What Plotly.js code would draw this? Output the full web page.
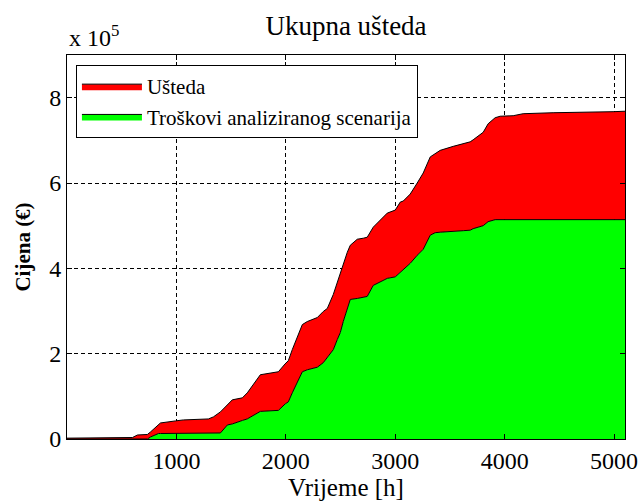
<!DOCTYPE html>
<html>
<head>
<meta charset="utf-8">
<script src="https://cdn.plot.ly/plotly-3.0.1.min.js"></script>
<style>html,body{margin:0;padding:0;background:#fff;}#chart{width:641px;height:503px;}</style>
</head>
<body>
<div id="chart"></div>
<script>
// Time [h]
const hours = [0, 598, 644, 735, 763, 836, 854, 991, 1064, 1292, 1338, 1402, 1466, 1511, 1603, 1648, 1767, 1858, 1932, 1995, 2023, 2059, 2105, 2151, 2196, 2288, 2342, 2379, 2434, 2470, 2498, 2525, 2562, 2589, 2653, 2708, 2744, 2799, 2927, 3000, 3046, 3073, 3137, 3201, 3256, 3320, 3365, 3411, 3530, 3621, 3685, 3712, 3804, 3849, 3913, 3959, 4078, 4169, 4443, 4991, 5100];
// Troškovi analiziranog scenarija (cumulative cost, €)
const troskovi = [0, 0, 0, 0, 4700, 12900, 12900, 12900, 12900, 12900, 12900, 14100, 32900, 35300, 43500, 47100, 64700, 65900, 67100, 82400, 87100, 108200, 134100, 157600, 162300, 168200, 178800, 190600, 209400, 232900, 249400, 275300, 308200, 327100, 329400, 331800, 334100, 360000, 376500, 380000, 390600, 397700, 411800, 430600, 444700, 477700, 483500, 484700, 485900, 488200, 489400, 492900, 500000, 509400, 514100, 514100, 514100, 514100, 514100, 514100, 514100];
// Ušteda (cumulative savings, €)
const usteda = [2000, 3500, 9400, 10600, 11800, 20100, 24700, 29500, 31800, 34100, 38900, 49400, 47100, 56500, 53000, 61100, 85900, 89400, 90500, 94100, 96400, 101200, 103500, 110600, 113000, 116500, 120000, 115300, 129400, 134200, 134100, 129400, 129500, 127000, 138800, 138800, 138800, 136500, 152900, 156500, 164700, 160000, 162300, 169400, 178800, 183500, 184800, 191800, 200000, 203600, 207100, 208300, 218800, 229400, 238900, 242400, 243600, 248300, 250600, 253000, 254100];

const xTickVals = [1000, 2000, 3000, 4000, 5000];
const yTickVals = [0, 200000, 400000, 600000, 800000];
const yTickText = ["0", "2", "4", "6", "8"];

const serif = "Liberation Serif";

const traces = [
  {
    x: hours, y: troskovi, name: "Troškovi analiziranog scenarija",
    type: "scatter", mode: "lines", stackgroup: "one",
    fillcolor: "#00ff00", line: {color: "#000000", width: 1},
    legendrank: 2
  },
  {
    x: hours, y: usteda, name: "Ušteda",
    type: "scatter", mode: "lines", stackgroup: "one",
    fillcolor: "#ff0000", line: {color: "#000000", width: 1},
    legendrank: 1
  }
];

const axisCommon = {
  showline: true, linecolor: "#000000", linewidth: 1, mirror: "ticks",
  ticks: "inside", ticklen: 5, tickcolor: "#000000",
  showgrid: true, gridcolor: "#000000", gridwidth: 1, griddash: "4px,3px",
  zeroline: false,
  tickfont: {family: serif, size: 24, color: "#000000"}
};

const layout = {
  width: 641, height: 503,
  margin: {l: 67, r: 16, t: 55, b: 64, pad: 0},
  paper_bgcolor: "#ffffff", plot_bgcolor: "#ffffff",
  font: {family: serif, color: "#000000"},
  title: {text: "Ukupna ušteda", font: {family: serif, size: 27, color: "#000000"},
          x: 0.5, xref: "paper", xanchor: "center", y: 0.95, yref: "container", yanchor: "middle"},
  xaxis: Object.assign({}, axisCommon, {
    range: [0, 5100], tickvals: xTickVals,
    title: {text: "Vrijeme [h]", font: {family: serif, size: 25, color: "#000000"}, standoff: 4}
  }),
  yaxis: Object.assign({}, axisCommon, {
    range: [0, 900000], tickvals: yTickVals, ticktext: yTickText,
    title: {text: "Cijena (€)", font: {family: serif, size: 21, color: "#000000", weight: "bold"}, standoff: 12}
  }),
  showlegend: true,
  legend: {
    x: 0.016, y: 0.974, xanchor: "left", yanchor: "top",
    bgcolor: "#ffffff", bordercolor: "#000000", borderwidth: 1,
    font: {family: serif, size: 21, color: "#000000"},
    traceorder: "normal", itemwidth: 60
  },
  annotations: [{
    xref: "paper", yref: "paper", x: 0, y: 1, xanchor: "left", yanchor: "bottom", yshift: 2,
    text: "x 10<sup>5</sup>", showarrow: false,
    font: {family: serif, size: 24, color: "#000000"}
  }]
};

Plotly.newPlot("chart", traces, layout, {displayModeBar: false, staticPlot: true});
</script>
</body>
</html>
